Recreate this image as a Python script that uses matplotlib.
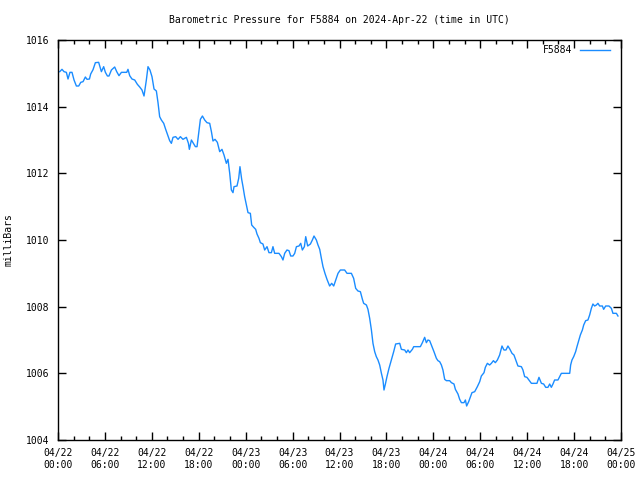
import matplotlib
matplotlib.use("Agg")
import matplotlib.pyplot as plt
import matplotlib.dates as mdates
import pandas as pd

# hours since 2024-04-22 00:00 UTC and pressure in mbar
hours = [
    0.22, 0.51, 0.77, 1.07, 1.28, 1.53, 1.79, 2.05, 2.35, 2.65, 2.91, 3.20,
    3.50, 3.71, 4.02, 4.18, 4.48, 4.78, 5.20, 5.55, 5.84, 6.06, 6.32, 6.52,
    6.83, 7.25, 7.51, 7.80, 8.11, 8.79, 8.95, 9.17, 9.46, 9.81, 10.15, 10.45,
    10.74, 11.00, 11.30, 11.51, 11.76, 12.02, 12.28, 12.58, 12.79, 13.00,
    13.22, 13.52, 13.77, 14.07, 14.28, 14.50, 14.71, 15.05, 15.35, 15.65,
    15.98, 16.42, 16.68, 16.80, 17.06, 17.26, 17.57, 17.78, 17.99, 18.21,
    18.47, 18.76, 19.05, 19.40, 19.62, 19.82, 20.08, 20.38, 20.68, 20.97,
    21.23, 21.53, 21.74, 21.96, 22.17, 22.38, 22.51, 22.89, 23.11, 23.27,
    23.49, 23.66, 23.87, 24.09, 24.30, 24.60, 24.77, 25.03, 25.28, 25.45,
    25.70, 25.88, 26.21, 26.43, 26.73, 26.98, 27.29, 27.49, 27.71, 28.26,
    28.57, 28.77, 28.99, 29.28, 29.54, 29.76, 30.05, 30.27, 30.49, 30.82,
    31.04, 31.25, 31.51, 31.68, 31.93, 32.28, 32.53, 32.74, 33.04, 33.25,
    33.47, 33.68, 33.89, 34.14, 34.40, 34.74, 35.00, 35.26, 35.52, 35.81,
    36.11, 36.66, 36.96, 37.52, 37.81, 38.07, 38.36, 38.67, 38.93, 39.09,
    39.44, 39.64, 39.86, 40.08, 40.28, 40.50, 40.71, 40.92, 41.14, 41.36,
    41.56, 41.69, 41.87, 42.07, 42.33, 42.63, 42.93, 43.18, 43.70, 43.91,
    44.34, 44.55, 44.76, 44.97, 45.32, 45.49, 46.34, 46.60, 46.89, 47.11,
    47.31, 47.53, 47.75, 48.08, 48.39, 48.59, 48.81, 49.03, 49.23, 49.45,
    49.67, 50.09, 50.31, 50.64, 50.82, 51.15, 51.37, 51.59, 51.92, 52.10,
    52.26, 52.52, 52.78, 52.94, 53.29, 53.63, 53.93, 54.14, 54.48, 54.65,
    54.91, 55.20, 55.42, 55.68, 55.93, 56.19, 56.48, 56.78, 57.03, 57.29,
    57.54, 57.80, 58.06, 58.31, 58.62, 58.82, 59.26, 59.46, 59.68, 59.97,
    60.23, 60.54, 61.25, 61.51, 61.82, 62.11, 62.37, 62.66, 62.88, 63.09,
    63.30, 63.51, 63.94, 64.16, 64.37, 65.44, 65.56, 65.73, 65.95, 66.20,
    66.37, 66.62, 66.80, 67.06, 67.23, 67.48, 67.77, 67.99, 68.21, 68.41,
    68.63, 68.85, 69.05, 69.27, 69.62, 69.78, 70.04, 70.46, 70.77, 70.97,
    71.41, 71.61,
]
pressure = [
    1015.05, 1015.12, 1015.05, 1015.03, 1014.83, 1015.03, 1015.03, 1014.80,
    1014.62, 1014.62, 1014.73, 1014.75, 1014.89, 1014.82, 1014.83, 1014.98,
    1015.11, 1015.32, 1015.33, 1015.05, 1015.20, 1015.03, 1014.92, 1014.92,
    1015.10, 1015.19, 1015.05, 1014.93, 1015.03, 1015.03, 1015.12, 1014.93,
    1014.83, 1014.80, 1014.67, 1014.59, 1014.50, 1014.32, 1014.80, 1015.20,
    1015.10, 1014.90, 1014.53, 1014.47, 1014.12, 1013.70, 1013.60, 1013.50,
    1013.32, 1013.12, 1012.98, 1012.90, 1013.08, 1013.10, 1013.02, 1013.10,
    1013.02, 1013.08, 1012.90, 1012.72, 1013.00, 1012.92, 1012.80, 1012.80,
    1013.20, 1013.62, 1013.72, 1013.60, 1013.52, 1013.50, 1013.25, 1012.97,
    1013.02, 1012.93, 1012.65, 1012.72, 1012.55, 1012.30, 1012.42, 1012.00,
    1011.50, 1011.42, 1011.60, 1011.62, 1011.85, 1012.20, 1011.82, 1011.60,
    1011.30, 1011.05, 1010.82, 1010.80, 1010.45, 1010.38, 1010.32, 1010.18,
    1010.05, 1009.92, 1009.88, 1009.70, 1009.80, 1009.62, 1009.62, 1009.80,
    1009.60, 1009.60, 1009.50, 1009.40, 1009.60, 1009.70, 1009.68, 1009.52,
    1009.52, 1009.60, 1009.80, 1009.82, 1009.90, 1009.70, 1009.80, 1010.10,
    1009.82, 1009.88, 1010.00, 1010.12, 1010.00, 1009.85, 1009.72, 1009.45,
    1009.20, 1009.00, 1008.82, 1008.62, 1008.70, 1008.62, 1008.80, 1009.00,
    1009.10, 1009.10, 1009.00, 1009.00, 1008.85, 1008.55, 1008.47, 1008.45,
    1008.22, 1008.10, 1008.05, 1007.92, 1007.65, 1007.30, 1006.90, 1006.65,
    1006.50, 1006.40, 1006.25, 1006.00, 1005.80, 1005.50, 1005.68, 1005.90,
    1006.15, 1006.40, 1006.65, 1006.88, 1006.90, 1006.72, 1006.70, 1006.62,
    1006.70, 1006.62, 1006.72, 1006.80, 1006.80, 1006.92, 1007.08, 1006.92,
    1007.00, 1006.98, 1006.85, 1006.65, 1006.45, 1006.38, 1006.35, 1006.25,
    1006.10, 1005.82, 1005.78, 1005.78, 1005.72, 1005.68, 1005.52, 1005.38,
    1005.22, 1005.12, 1005.12, 1005.20, 1005.02, 1005.15, 1005.32, 1005.42,
    1005.45, 1005.60, 1005.75, 1005.92, 1006.02, 1006.18, 1006.30, 1006.25,
    1006.30, 1006.38, 1006.32, 1006.40, 1006.55, 1006.82, 1006.70, 1006.70,
    1006.82, 1006.72, 1006.60, 1006.55, 1006.35, 1006.22, 1006.20, 1006.10,
    1005.90, 1005.88, 1005.80, 1005.70, 1005.70, 1005.88, 1005.70, 1005.68,
    1005.58, 1005.58, 1005.68, 1005.58, 1005.68, 1005.80, 1005.80, 1005.90,
    1006.00, 1006.00, 1006.25, 1006.40, 1006.50, 1006.65, 1006.80, 1007.00,
    1007.15, 1007.30, 1007.45, 1007.58, 1007.60, 1007.75, 1007.95, 1008.08,
    1008.02, 1008.05, 1008.10, 1008.02, 1008.02, 1007.92, 1008.02, 1008.02,
    1007.95, 1007.80, 1007.80, 1007.72,
]
station = "F5884"
start = pd.Timestamp("2024-04-22 00:00")
end = pd.Timestamp("2024-04-25 00:00")
y_ticks = [1004, 1006, 1008, 1010, 1012, 1014, 1016]

times = start + pd.to_timedelta(hours, unit="h")

plt.rcParams["font.family"] = "DejaVu Sans Mono"
plt.rcParams["font.size"] = 7

fig = plt.figure(figsize=(6.4, 4.8), dpi=100)
ax = fig.add_axes([58 / 640, 40 / 480, 563 / 640, 400 / 480])

ax.plot(times, pressure, color="#1a8cff", linewidth=1, label=station)

ax.set_xlim(start, end)
ax.set_ylim(1004, 1016)
ax.set_yticks(y_ticks)
ax.xaxis.set_major_locator(mdates.HourLocator(byhour=range(0, 24, 6)))
ax.xaxis.set_minor_locator(mdates.HourLocator(byhour=range(0, 24, 2)))
ax.xaxis.set_major_formatter(mdates.DateFormatter("%m/%d\n%H:%M"))

ax.tick_params(which="both", direction="in", top=True, right=True, width=1)
ax.tick_params(which="major", length=6, pad=6)
ax.tick_params(which="minor", length=3)
for s in ax.spines.values():
    s.set_linewidth(1)

ax.set_title("Barometric Pressure for %s on 2024-Apr-22 (time in UTC)" % station,
             fontsize=7, pad=12)
ax.set_ylabel("milliBars", labelpad=9)

ax.legend(loc="upper right", bbox_to_anchor=(0.99, 1.002), frameon=False,
          markerfirst=False, handlelength=3.0, borderaxespad=0.2)

fig.savefig("out.png", dpi=100)
